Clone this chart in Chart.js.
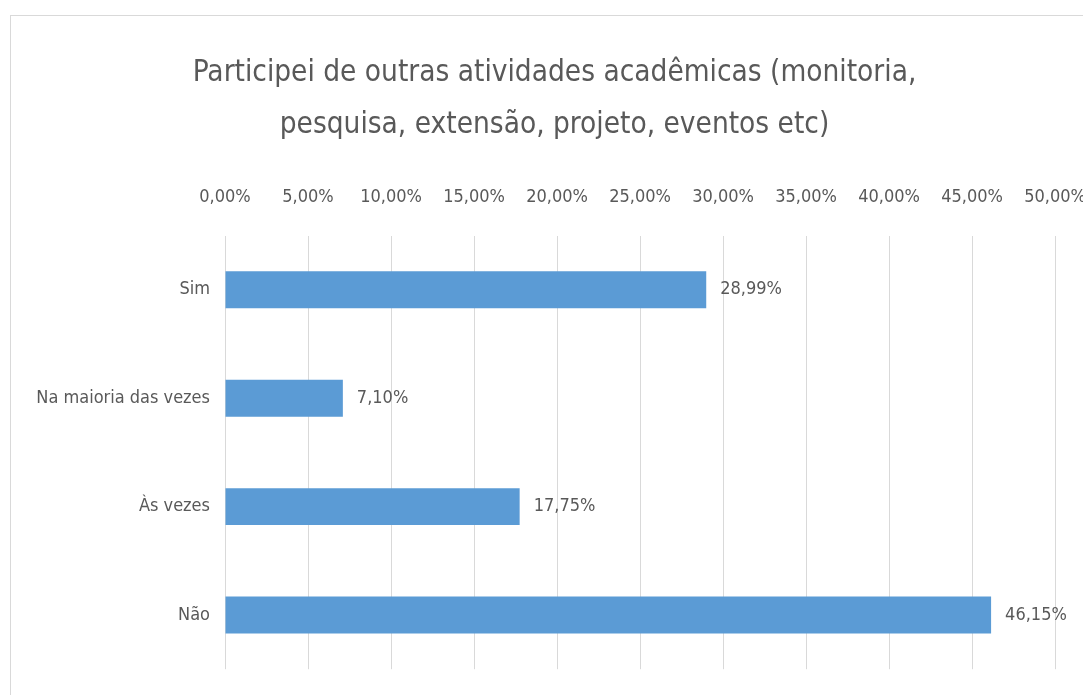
<!DOCTYPE html>
<html>
<head>
<meta charset="utf-8">
<script src="https://cdn.jsdelivr.net/npm/chart.js@4.4.1/dist/chart.umd.min.js"></script>
<style>
  body { margin: 0; background: #fff; overflow: hidden; }
  #frame {
    position: absolute; left: 10px; top: 15px; width: 1200px; height: 800px;
    border-left: 1px solid #d9d9d9; border-top: 1px solid #d9d9d9;
  }
  #chart { position: absolute; left: 0; top: 0; }
</style>
</head>
<body>
<div id="frame"></div>
<canvas id="chart" width="1083" height="695"></canvas>
<script>
  // data
  const categories = ['Sim', 'Na maioria das vezes', 'Às vezes', 'Não'];
  const percentValues = [28.99, 7.10, 17.75, 46.15];
  const titleLines = ['Participei de outras atividades acadêmicas (monitoria,', 'pesquisa, extensão, projeto, eventos etc)'];

  const FONT = '"DejaVu Sans Condensed", "Liberation Sans Narrow", sans-serif';
  const GREY = '#595959';

  function fmtPct(v) {
    return v.toFixed(2).replace('.', ',') + '%';
  }

  // title centred over the whole chart frame (which is wider than the window)
  const frameTitle = {
    id: 'frameTitle',
    afterDraw(chart) {
      const ctx = chart.ctx;
      ctx.save();
      ctx.font = '29.5px ' + FONT;
      ctx.fillStyle = GREY;
      ctx.textAlign = 'center';
      ctx.textBaseline = 'middle';
      titleLines.forEach((line, i) => {
        ctx.fillText(line, chart.width / 2 + 13, 73 + i * 52);
      });
      ctx.restore();
    }
  };

  // value labels at the end of each bar
  const barLabels = {
    id: 'barLabels',
    afterDatasetsDraw(chart) {
      const ctx = chart.ctx;
      const meta = chart.getDatasetMeta(0);
      ctx.save();
      ctx.font = '18px ' + FONT;
      ctx.fillStyle = GREY;
      ctx.textAlign = 'left';
      ctx.textBaseline = 'middle';
      meta.data.forEach((bar, i) => {
        ctx.fillText(fmtPct(percentValues[i]), bar.x + 14, bar.y);
      });
      ctx.restore();
    }
  };

  new Chart(document.getElementById('chart'), {
    type: 'bar',
    data: {
      labels: categories,
      datasets: [{
        data: percentValues,
        backgroundColor: '#5b9bd5',
        categoryPercentage: 1,
        barPercentage: 0.34
      }]
    },
    options: {
      indexAxis: 'y',
      responsive: false,
      animation: false,
      layout: { padding: { left: 0, right: 28, top: 160, bottom: 25 } },
      plugins: {
        legend: { display: false },
        tooltip: { enabled: false },
        title: { display: false }
      },
      scales: {
        x: {
          position: 'top',
          min: 0,
          max: 50,
          ticks: {
            stepSize: 5,
            color: GREY,
            padding: 27,
            maxRotation: 0,
            font: { family: FONT, size: 18 },
            callback: v => fmtPct(v)
          },
          grid: { color: '#d9d9d9', drawTicks: false },
          border: { display: false },
          afterFit(scale) { scale.paddingLeft = 0; scale.paddingRight = 0; }
        },
        y: {
          ticks: {
            color: GREY,
            padding: 15,
            font: { family: FONT, size: 18 }
          },
          grid: { display: false, drawTicks: false },
          border: { display: false },
          afterFit(scale) { scale.width = 225; }
        }
      }
    },
    plugins: [barLabels, frameTitle]
  });
</script>
</body>
</html>
